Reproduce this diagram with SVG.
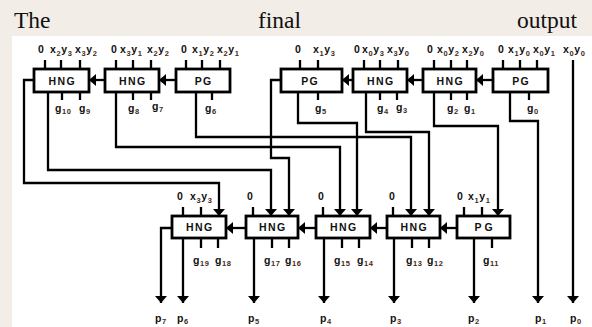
<svg xmlns="http://www.w3.org/2000/svg" width="592" height="327" viewBox="0 0 592 327">
<defs>
<style>
.bg{fill:#f2ede6}
.panel{fill:#ffffff}
.hd{font-family:"Liberation Serif","Times New Roman",serif;font-size:23.5px;fill:#111}
.box{fill:#fff;stroke:#000;stroke-width:2.8}
.bl{font-family:"Liberation Sans",Arial,sans-serif;font-weight:bold;font-size:10.5px;letter-spacing:1.4px;fill:#111;text-anchor:middle}
.lb{font-family:"Liberation Sans",Arial,sans-serif;font-weight:bold;font-size:10.5px;letter-spacing:0.6px;fill:#111}
.s{font-size:7.5px;fill:#4a2a12}
.tk{stroke:#000;stroke-width:2.3;fill:none}
.w{stroke:#000;stroke-width:2.3;fill:none}
.wa{stroke:#000;stroke-width:2.3;fill:none;marker-end:url(#ah)}
</style>
<marker id="ah" viewBox="0 0 7 12" refX="7" refY="6" markerWidth="7" markerHeight="12" markerUnits="userSpaceOnUse" orient="auto">
<path d="M0,0 L7,6 L0,12 z" fill="#000"/>
</marker>
</defs>
<rect class="bg" x="0" y="0" width="592" height="327"/>
<rect class="panel" x="12" y="36" width="580" height="291"/>
<g id="heading">
<text class="hd" x="14" y="28">The</text>
<text class="hd" x="258" y="28">final</text>
<text class="hd" x="517" y="28">output</text>
</g>

<g id="connectors">
<path class="wa" d="M34,80 H24 V183 H219 V216"/>
<path class="wa" d="M48,92 V170 H271 V216"/>
<path class="wa" d="M116,92 V147 H340 V216"/>
<path class="wa" d="M196,92 V137 H411 V216"/>
<path class="wa" d="M281,80 H271 V158 H289 V216"/>
<path class="wa" d="M298,92 V123 H357 V216"/>
<path class="wa" d="M366,92 V132 H429 V216"/>
<path class="wa" d="M434,92 V126 H498 V216"/>
<path class="wa" d="M510,92 V121 H538 V303"/>
<path class="wa" d="M573,60 V303"/>
<path class="wa" d="M172,228 H161 V303"/>
<path class="wa" d="M183,238 V303"/>
<path class="wa" d="M254,238 V303"/>
<path class="wa" d="M324,238 V303"/>
<path class="wa" d="M394,238 V303"/>
<path class="wa" d="M474,238 V303"/>
<path class="wa" d="M105,80 H89"/>
<path class="wa" d="M176,80 H159"/>
<path class="wa" d="M353,80 H342"/>
<path class="wa" d="M423,80 H407"/>
<path class="wa" d="M493,80 H476"/>
<path class="wa" d="M246,228 H226"/>
<path class="wa" d="M316,228 H298"/>
<path class="wa" d="M387,228 H370"/>
<path class="wa" d="M457,228 H440"/>
</g>

<g id="hng-top-1">
<path class="tk" d="M45,60 V69 M61,60 V69 M80,60 V69 M62,92 V100 M80,92 V100"/>
<rect class="box" x="34" y="69" width="55" height="23"/>
<text class="bl" x="62.2" y="84.5">HNG</text>
<text class="lb" x="38" y="53">0</text>
<text class="lb" x="50" y="53">x<tspan class="s" dy="3">2</tspan><tspan dy="-3">y</tspan><tspan class="s" dy="3">3</tspan></text>
<text class="lb" x="75" y="53">x<tspan class="s" dy="3">3</tspan><tspan dy="-3">y</tspan><tspan class="s" dy="3">2</tspan></text>
<text class="lb" x="55" y="112">g<tspan class="s" dy="2">10</tspan></text>
<text class="lb" x="79" y="112">g<tspan class="s" dy="2">9</tspan></text>
</g>

<g id="hng-top-2">
<path class="tk" d="M116,60 V69 M133,60 V69 M151,60 V69 M133,92 V100 M151,92 V100"/>
<rect class="box" x="105" y="69" width="54" height="23"/>
<text class="bl" x="132.7" y="84.5">HNG</text>
<text class="lb" x="111" y="53">0</text>
<text class="lb" x="120" y="53">x<tspan class="s" dy="3">3</tspan><tspan dy="-3">y</tspan><tspan class="s" dy="3">1</tspan></text>
<text class="lb" x="147" y="53">x<tspan class="s" dy="3">2</tspan><tspan dy="-3">y</tspan><tspan class="s" dy="3">2</tspan></text>
<text class="lb" x="128" y="112">g<tspan class="s" dy="2">8</tspan></text>
<text class="lb" x="152" y="110">g<tspan class="s" dy="2">7</tspan></text>
</g>

<g id="pg-top-3">
<path class="tk" d="M186,60 V69 M202,60 V69 M220,60 V69 M212,92 V100"/>
<rect class="box" x="176" y="69" width="54" height="23"/>
<text class="bl" x="203.7" y="84.5">PG</text>
<text class="lb" x="181" y="53">0</text>
<text class="lb" x="192" y="53">x<tspan class="s" dy="3">1</tspan><tspan dy="-3">y</tspan><tspan class="s" dy="3">2</tspan></text>
<text class="lb" x="217" y="53">x<tspan class="s" dy="3">2</tspan><tspan dy="-3">y</tspan><tspan class="s" dy="3">1</tspan></text>
<text class="lb" x="205" y="112">g<tspan class="s" dy="2">6</tspan></text>
</g>

<g id="pg-top-4">
<path class="tk" d="M300,60 V69 M318,60 V69 M318,92 V100"/>
<rect class="box" x="281" y="69" width="61" height="23"/>
<text class="bl" x="310.2" y="84.5">PG</text>
<text class="lb" x="295" y="53">0</text>
<text class="lb" x="313" y="53">x<tspan class="s" dy="3">1</tspan><tspan dy="-3">y</tspan><tspan class="s" dy="3">3</tspan></text>
<text class="lb" x="315" y="112">g<tspan class="s" dy="2">5</tspan></text>
</g>

<g id="hng-top-5">
<path class="tk" d="M364,60 V69 M380,60 V69 M398,60 V69 M380,92 V100 M397,92 V100"/>
<rect class="box" x="353" y="69" width="54" height="23"/>
<text class="bl" x="380.7" y="84.5">HNG</text>
<text class="lb" x="354" y="53">0</text>
<text class="lb" x="362" y="53">x<tspan class="s" dy="3">0</tspan><tspan dy="-3">y</tspan><tspan class="s" dy="3">3</tspan></text>
<text class="lb" x="387" y="53">x<tspan class="s" dy="3">3</tspan><tspan dy="-3">y</tspan><tspan class="s" dy="3">0</tspan></text>
<text class="lb" x="377" y="112">g<tspan class="s" dy="2">4</tspan></text>
<text class="lb" x="396" y="111">g<tspan class="s" dy="2">3</tspan></text>
</g>

<g id="hng-top-6">
<path class="tk" d="M434,60 V69 M451,60 V69 M467,60 V69 M451,92 V100 M467,92 V100"/>
<rect class="box" x="423" y="69" width="53" height="23"/>
<text class="bl" x="450.2" y="84.5">HNG</text>
<text class="lb" x="427" y="53">0</text>
<text class="lb" x="437" y="53">x<tspan class="s" dy="3">0</tspan><tspan dy="-3">y</tspan><tspan class="s" dy="3">2</tspan></text>
<text class="lb" x="462" y="53">x<tspan class="s" dy="3">2</tspan><tspan dy="-3">y</tspan><tspan class="s" dy="3">0</tspan></text>
<text class="lb" x="447" y="112">g<tspan class="s" dy="2">2</tspan></text>
<text class="lb" x="464" y="112">g<tspan class="s" dy="2">1</tspan></text>
</g>

<g id="pg-top-7">
<path class="tk" d="M503,60 V69 M520,60 V69 M537,60 V69 M529,92 V100"/>
<rect class="box" x="493" y="69" width="55" height="23"/>
<text class="bl" x="521.2" y="84.5">PG</text>
<text class="lb" x="498" y="53">0</text>
<text class="lb" x="508" y="53">x<tspan class="s" dy="3">1</tspan><tspan dy="-3">y</tspan><tspan class="s" dy="3">0</tspan></text>
<text class="lb" x="533" y="53">x<tspan class="s" dy="3">0</tspan><tspan dy="-3">y</tspan><tspan class="s" dy="3">1</tspan></text>
<text class="lb" x="527" y="112">g<tspan class="s" dy="2">0</tspan></text>
</g>

<g id="input-x0y0">
<text class="lb" x="563" y="53">x<tspan class="s" dy="3">0</tspan><tspan dy="-3">y</tspan><tspan class="s" dy="3">0</tspan></text>
</g>

<g id="hng-bot-a">
<path class="tk" d="M183,207 V216 M201,207 V216 M201,238 V248 M218,238 V248"/>
<rect class="box" x="172" y="216" width="54" height="22"/>
<text class="bl" x="199.7" y="231">HNG</text>
<text class="lb" x="177" y="200">0</text>
<text class="lb" x="190" y="200">x<tspan class="s" dy="3">3</tspan><tspan dy="-3">y</tspan><tspan class="s" dy="3">3</tspan></text>
<text class="lb" x="193" y="264">g<tspan class="s" dy="2">19</tspan></text>
<text class="lb" x="215" y="264">g<tspan class="s" dy="2">18</tspan></text>
</g>

<g id="hng-bot-b">
<path class="tk" d="M253,207 V216 M272,238 V248 M289,238 V248"/>
<rect class="box" x="246" y="216" width="52" height="22"/>
<text class="bl" x="272.7" y="231">HNG</text>
<text class="lb" x="247" y="200">0</text>
<text class="lb" x="264" y="264">g<tspan class="s" dy="2">17</tspan></text>
<text class="lb" x="285" y="264">g<tspan class="s" dy="2">16</tspan></text>
</g>

<g id="hng-bot-c">
<path class="tk" d="M323,207 V216 M342,238 V248 M359,238 V248"/>
<rect class="box" x="316" y="216" width="54" height="22"/>
<text class="bl" x="343.7" y="231">HNG</text>
<text class="lb" x="318" y="200">0</text>
<text class="lb" x="334" y="264">g<tspan class="s" dy="2">15</tspan></text>
<text class="lb" x="357" y="264">g<tspan class="s" dy="2">14</tspan></text>
</g>

<g id="hng-bot-d">
<path class="tk" d="M393,207 V216 M412,238 V248 M429,238 V248"/>
<rect class="box" x="387" y="216" width="53" height="22"/>
<text class="bl" x="414.2" y="231">HNG</text>
<text class="lb" x="389" y="200">0</text>
<text class="lb" x="406" y="264">g<tspan class="s" dy="2">13</tspan></text>
<text class="lb" x="427" y="264">g<tspan class="s" dy="2">12</tspan></text>
</g>

<g id="pg-bot-e">
<path class="tk" d="M464,207 V216 M482,207 V216 M492,238 V248"/>
<rect class="box" x="457" y="216" width="53" height="22"/>
<text class="bl" x="485" y="231" style="letter-spacing:3px">PG</text>
<text class="lb" x="457" y="200">0</text>
<text class="lb" x="468" y="200">x<tspan class="s" dy="3">1</tspan><tspan dy="-3">y</tspan><tspan class="s" dy="3">1</tspan></text>
<text class="lb" x="483" y="264">g<tspan class="s" dy="2">11</tspan></text>
</g>

<g id="outputs">
<text class="lb" x="155" y="322">p<tspan class="s" dy="2">7</tspan></text>
<text class="lb" x="177" y="322">p<tspan class="s" dy="2">6</tspan></text>
<text class="lb" x="248" y="322">p<tspan class="s" dy="2">5</tspan></text>
<text class="lb" x="320" y="322">p<tspan class="s" dy="2">4</tspan></text>
<text class="lb" x="390" y="322">p<tspan class="s" dy="2">3</tspan></text>
<text class="lb" x="468" y="322">p<tspan class="s" dy="2">2</tspan></text>
<text class="lb" x="535" y="322">p<tspan class="s" dy="2">1</tspan></text>
<text class="lb" x="570" y="322">p<tspan class="s" dy="2">0</tspan></text>
</g>
</svg>
